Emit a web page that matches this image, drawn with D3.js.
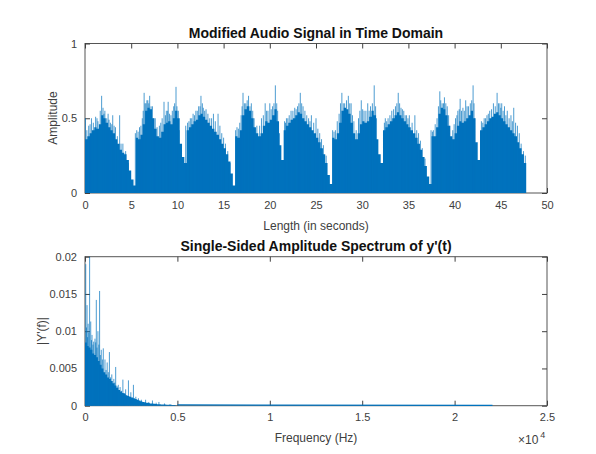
<!DOCTYPE html>
<html>
<head>
<meta charset="utf-8">
<script src="https://cdn.jsdelivr.net/npm/d3@7.9.0/dist/d3.min.js"></script>
<style>
  html, body { margin: 0; padding: 0; background: #fff; }
  svg { display: block; font-family: "Liberation Sans", Arial, sans-serif; }
  .tick text { fill: #404040; font-size: 11px; }
  .tick line { stroke: #404040; }
</style>
</head>
<body>
<div id="chart"></div>
<script>
// time domain: envelope of |y| sampled every 0.25 s, plus the single-sample peaks above it
const timeStep = 0.25;
const timeBody = [
  0.36, 0.38, 0.40, 0.42, 0.44, 0.43, 0.46, 0.52, 0.50, 0.47, 0.44, 0.42, 0.40, 0.36, 0.33, 0.29, 0.27, 0.26, 0.22, 0.15, 0.09, 0.05,
  0.37, 0.36, 0.39, 0.46, 0.55, 0.57, 0.56, 0.50, 0.43, 0.38, 0.37, 0.41, 0.46, 0.47, 0.48, 0.46, 0.50, 0.55, 0.50, 0.33, 0.24,
  0.20, 0.42, 0.44, 0.46, 0.48, 0.49, 0.52, 0.53, 0.51, 0.49, 0.47, 0.45, 0.43, 0.41, 0.39, 0.36, 0.33, 0.30, 0.26, 0.21, 0.13, 0.05,
  0.38, 0.37, 0.42, 0.52, 0.56, 0.58, 0.55, 0.50, 0.44, 0.40, 0.38, 0.40, 0.45, 0.48, 0.47, 0.49, 0.52, 0.56, 0.48, 0.32, 0.22,
  0.42, 0.45, 0.47, 0.49, 0.50, 0.52, 0.54, 0.53, 0.50, 0.48, 0.46, 0.44, 0.42, 0.40, 0.37, 0.34, 0.30, 0.26, 0.20, 0.12, 0.06,
  0.37, 0.36, 0.40, 0.47, 0.55, 0.57, 0.56, 0.53, 0.47, 0.40, 0.36, 0.40, 0.46, 0.48, 0.47, 0.48, 0.51, 0.55, 0.52, 0.36, 0.26, 0.20,
  0.42, 0.44, 0.46, 0.48, 0.50, 0.52, 0.54, 0.52, 0.50, 0.48, 0.46, 0.44, 0.42, 0.40, 0.37, 0.33, 0.29, 0.24, 0.18, 0.11, 0.06,
  0.38, 0.38, 0.44, 0.53, 0.57, 0.56, 0.52, 0.45, 0.38, 0.36, 0.40, 0.45, 0.48, 0.47, 0.48, 0.50, 0.52, 0.55, 0.50, 0.34, 0.22,
  0.42, 0.44, 0.46, 0.48, 0.50, 0.51, 0.53, 0.54, 0.52, 0.50, 0.48, 0.46, 0.44, 0.42, 0.40, 0.38, 0.34, 0.30, 0.26, 0.20, 0.20
];
const timePeaks = [
  [0.05, 0.5], [0.2, 0.42], [0.4, 0.45], [0.55, 0.46], [0.7, 0.5], [0.9, 0.47], [1.15, 0.51], [1.3, 0.5], [1.4, 0.48], [1.65, 0.55], [1.8, 0.65], [1.95, 0.57], [2.05, 0.53], [2.15, 0.55], [2.35, 0.5], [2.5, 0.53], [2.6, 0.49], [2.75, 0.47], [2.9, 0.46], [3.0, 0.52], [3.15, 0.45], [3.3, 0.44], [3.5, 0.38], [3.75, 0.52], [3.9, 0.33], [4.1, 0.33], [4.4, 0.28], [4.7, 0.2],
  [5.45, 0.4], [5.6, 0.42], [5.75, 0.41], [5.9, 0.44], [6.05, 0.45], [6.2, 0.5], [6.3, 0.55], [6.4, 0.67], [6.5, 0.6], [6.6, 0.6], [6.7, 0.62], [6.8, 0.62], [6.9, 0.6], [7.0, 0.65], [7.15, 0.58], [7.3, 0.58], [7.45, 0.5], [7.6, 0.5], [7.8, 0.44], [8.05, 0.45], [8.2, 0.47], [8.35, 0.5], [8.55, 0.61], [8.7, 0.52], [8.8, 0.55], [8.95, 0.55], [9.0, 0.61], [9.15, 0.53], [9.3, 0.52], [9.45, 0.55], [9.6, 0.58], [9.7, 0.6], [9.85, 0.71], [9.95, 0.58], [10.1, 0.55], [10.2, 0.42],
  [10.9, 0.45], [11.1, 0.47], [11.25, 0.48], [11.4, 0.5], [11.55, 0.5], [11.7, 0.53], [11.85, 0.52], [12.0, 0.55], [12.15, 0.55], [12.3, 0.58], [12.45, 0.58], [12.55, 0.65], [12.7, 0.6], [12.8, 0.57], [12.95, 0.55], [13.1, 0.56], [13.3, 0.53], [13.5, 0.5], [13.7, 0.5], [13.9, 0.53], [14.1, 0.48], [14.4, 0.53], [14.6, 0.45], [14.8, 0.4], [15.0, 0.37], [15.2, 0.33], [15.45, 0.28], [15.7, 0.2],
  [16.3, 0.42], [16.45, 0.44], [16.6, 0.43], [16.75, 0.47], [16.9, 0.52], [17.0, 0.58], [17.1, 0.67], [17.25, 0.6], [17.4, 0.6], [17.55, 0.62], [17.7, 0.65], [17.85, 0.58], [18.0, 0.6], [18.15, 0.55], [18.3, 0.5], [18.6, 0.45], [18.9, 0.45], [19.1, 0.5], [19.3, 0.52], [19.5, 0.6], [19.65, 0.55], [19.8, 0.55], [20.0, 0.6], [20.15, 0.56], [20.3, 0.58], [20.45, 0.6], [20.6, 0.72], [20.75, 0.6], [20.85, 0.55], [21.05, 0.4],
  [21.6, 0.48], [21.7, 0.47], [21.8, 0.5], [21.95, 0.5], [22.1, 0.52], [22.3, 0.55], [22.5, 0.55], [22.7, 0.57], [22.85, 0.56], [23.0, 0.58], [23.15, 0.6], [23.3, 0.67], [23.45, 0.6], [23.6, 0.58], [23.8, 0.55], [24.0, 0.52], [24.2, 0.5], [24.35, 0.48], [24.5, 0.52], [24.75, 0.47], [25.0, 0.5], [25.2, 0.43], [25.4, 0.4], [25.6, 0.36], [25.8, 0.32], [26.1, 0.25],
  [26.8, 0.42], [26.95, 0.41], [27.1, 0.42], [27.3, 0.48], [27.5, 0.53], [27.65, 0.6], [27.8, 0.67], [27.95, 0.6], [28.1, 0.6], [28.3, 0.62], [28.5, 0.65], [28.65, 0.6], [28.8, 0.6], [28.95, 0.52], [29.1, 0.48], [29.35, 0.42], [29.6, 0.5], [29.75, 0.55], [29.9, 0.62], [30.05, 0.56], [30.2, 0.55], [30.4, 0.55], [30.6, 0.6], [30.75, 0.55], [30.9, 0.58], [31.1, 0.6], [31.3, 0.72], [31.45, 0.58], [31.55, 0.5],
  [32.4, 0.47], [32.5, 0.5], [32.65, 0.48], [32.8, 0.5], [33.0, 0.52], [33.2, 0.55], [33.4, 0.56], [33.6, 0.58], [33.75, 0.6], [33.9, 0.67], [34.05, 0.6], [34.2, 0.57], [34.35, 0.56], [34.5, 0.55], [34.65, 0.52], [34.8, 0.52], [34.95, 0.5], [35.1, 0.52], [35.4, 0.47], [35.7, 0.52], [35.9, 0.42], [36.1, 0.4], [36.3, 0.35], [36.5, 0.3], [36.8, 0.23],
  [37.45, 0.42], [37.6, 0.41], [37.7, 0.42], [37.9, 0.46], [38.1, 0.5], [38.25, 0.58], [38.4, 0.68], [38.5, 0.62], [38.65, 0.6], [38.8, 0.6], [38.9, 0.64], [39.05, 0.6], [39.2, 0.58], [39.35, 0.52], [39.5, 0.45], [39.8, 0.42], [39.95, 0.46], [40.1, 0.5], [40.25, 0.52], [40.35, 0.55], [40.5, 0.56], [40.6, 0.63], [40.75, 0.55], [40.9, 0.57], [41.05, 0.55], [41.2, 0.62], [41.35, 0.58], [41.5, 0.58], [41.7, 0.6], [41.85, 0.62], [42.0, 0.72], [42.1, 0.6], [42.2, 0.5],
  [42.9, 0.48], [43.05, 0.47], [43.2, 0.5], [43.35, 0.5], [43.5, 0.52], [43.65, 0.53], [43.8, 0.55], [44.0, 0.56], [44.2, 0.6], [44.4, 0.58], [44.6, 0.67], [44.75, 0.6], [44.9, 0.6], [45.0, 0.57], [45.1, 0.6], [45.25, 0.55], [45.4, 0.58], [45.55, 0.52], [45.7, 0.55], [45.9, 0.5], [46.1, 0.52], [46.25, 0.48], [46.4, 0.57], [46.6, 0.47], [46.8, 0.45], [47.0, 0.4], [47.2, 0.33], [47.45, 0.28], [47.65, 0.25]
];

// spectrum: envelope every 100 Hz up to 5 kHz, the peaks, and the flat tail to Nyquist
const freqStep = 100;
const specBody = [
  0.0085, 0.0080, 0.0078, 0.0075, 0.0070, 0.0068, 0.0065, 0.0060, 0.0055, 0.0050,
  0.0045, 0.0042, 0.0038, 0.0036, 0.0033, 0.0030, 0.0027, 0.0024, 0.0021, 0.0019,
  0.0017, 0.0016, 0.0014, 0.0013, 0.0012, 0.0011, 0.0010, 0.0009, 0.0008, 0.0007,
  0.0006, 0.0005, 0.00045, 0.0004, 0.00035, 0.0003, 0.00028, 0.00025, 0.00022, 0.0002,
  0.00018, 0.00017, 0.00016, 0.00015, 0.00014, 0.00013, 0.00012, 0.00011, 0.0001, 0.0001
];
const specPeaks = [
  [40, 0.019], [80, 0.0105], [110, 0.0135], [140, 0.0092], [170, 0.011], [210, 0.0098], [250, 0.0205], [310, 0.0113], [350, 0.0088], [380, 0.0095], [430, 0.0082], [470, 0.0086], [540, 0.009],
  [580, 0.0085], [612, 0.0142], [650, 0.0078], [700, 0.01], [750, 0.0082], [790, 0.0154], [830, 0.0068], [880, 0.0075], [940, 0.0062], [990, 0.0077], [1080, 0.0062], [1140, 0.0048], [1200, 0.0058], [1260, 0.0045], [1320, 0.0072],
  [1380, 0.0038], [1450, 0.0042], [1560, 0.0036], [1610, 0.0031], [1660, 0.0052], [1740, 0.0026], [1800, 0.0028], [1900, 0.0025], [1980, 0.002], [2050, 0.0035], [2130, 0.0017], [2200, 0.0022], [2350, 0.0034],
  [2480, 0.0018], [2620, 0.0028], [2750, 0.0012], [2890, 0.001], [3050, 0.0008], [3280, 0.0008], [3450, 0.0005], [3650, 0.0007],
  [3850, 0.0004], [4000, 0.0005], [4300, 0.0003], [4600, 0.0002]
];
const specTail = [[5000, 0.0001], [22050, 0.00005]];

const timeTicksX = [0, 5, 10, 15, 20, 25, 30, 35, 40, 45, 50];
const timeTicksY = [0, 0.5, 1];
const freqTicksX = [0, 5000, 10000, 15000, 20000, 25000];
const freqTicksY = [0, 0.005, 0.01, 0.015, 0.02];

const blue = "#0072BD";
const width = 596;
const height = 454;

const svg = d3.select("#chart").append("svg")
  .attr("width", width)
  .attr("height", height);

function drawFrame(g, x, y, ticksX, ticksY, fmtX, fmtY) {
  const [x0, x1] = x.range();
  const [y0, y1] = y.range();
  g.append("rect")
    .attr("x", x0).attr("y", y1)
    .attr("width", x1 - x0).attr("height", y0 - y1)
    .attr("fill", "none").attr("stroke", "#555").attr("stroke-width", 1);

  const axes = [
    [d3.axisBottom(x).tickValues(ticksX).tickFormat(fmtX), `translate(0,${y0})`],
    [d3.axisTop(x).tickValues(ticksX).tickFormat(""), `translate(0,${y1})`],
    [d3.axisLeft(y).tickValues(ticksY).tickFormat(fmtY), `translate(${x0},0)`],
    [d3.axisRight(y).tickValues(ticksY).tickFormat(""), `translate(${x1},0)`],
  ];
  axes.forEach(([ax, tr]) => {
    const a = g.append("g").attr("transform", tr)
      .call(ax.tickSizeInner(-5).tickSizeOuter(0).tickPadding(8));
    a.select(".domain").remove();
    a.selectAll("text").attr("font-family", null);
  });
}

// ---- top: time domain ----
const xTime = d3.scaleLinear().domain([0, 50]).range([85, 547]);
const yTime = d3.scaleLinear().domain([0, 1]).range([193, 43.5]);

const topG = svg.append("g");
drawFrame(topG, xTime, yTime, timeTicksX, timeTicksY, d3.format("d"), (d) => String(d));

topG.append("path")
  .datum(timeBody)
  .attr("d", d3.area()
    .x((d, i) => xTime(i * timeStep))
    .y0(yTime(0))
    .y1((d) => yTime(d))
    .curve(d3.curveStepAfter))
  .attr("fill", blue);

topG.append("g").selectAll("line")
  .data(timePeaks)
  .join("line")
  .attr("x1", (d) => xTime(d[0])).attr("x2", (d) => xTime(d[0]))
  .attr("y1", yTime(0)).attr("y2", (d) => yTime(d[1]))
  .attr("stroke", blue).attr("stroke-width", 1).attr("stroke-opacity", 0.7);

topG.append("text")
  .attr("x", 316).attr("y", 38)
  .attr("text-anchor", "middle")
  .attr("font-size", 14).attr("font-weight", "bold").attr("fill", "#111")
  .text("Modified Audio Signal in Time Domain");
topG.append("text")
  .attr("x", 316).attr("y", 230)
  .attr("text-anchor", "middle")
  .attr("font-size", 12).attr("fill", "#404040")
  .text("Length (in seconds)");
topG.append("text")
  .attr("transform", `translate(57,118) rotate(-90)`)
  .attr("text-anchor", "middle")
  .attr("font-size", 12).attr("fill", "#404040")
  .text("Amplitude");

// ---- bottom: spectrum ----
const xFreq = d3.scaleLinear().domain([0, 25000]).range([85, 547]);
const yFreq = d3.scaleLinear().domain([0, 0.02]).range([405.7, 256.7]);

const botG = svg.append("g");
drawFrame(botG, xFreq, yFreq, freqTicksX, freqTicksY, (d) => String(d / 10000), (d) => String(d));

svg.append("clipPath").attr("id", "specClip")
  .append("rect")
  .attr("x", 85).attr("y", 256.7)
  .attr("width", 462).attr("height", 149.5);

const spec = botG.append("g").attr("clip-path", "url(#specClip)");
spec.append("path")
  .datum(specBody)
  .attr("d", d3.area()
    .x((d, i) => xFreq(i * freqStep))
    .y0(yFreq(0))
    .y1((d) => yFreq(d))
    .curve(d3.curveStepAfter))
  .attr("fill", blue);

spec.append("g").selectAll("line")
  .data(specPeaks)
  .join("line")
  .attr("x1", (d) => xFreq(d[0])).attr("x2", (d) => xFreq(d[0]))
  .attr("y1", yFreq(0)).attr("y2", (d) => yFreq(d[1]))
  .attr("stroke", blue).attr("stroke-width", 1).attr("stroke-opacity", 0.7);

spec.append("path")
  .datum(specTail)
  .attr("d", d3.line().x((d) => xFreq(d[0])).y((d) => yFreq(d[1])))
  .attr("fill", "none").attr("stroke", blue).attr("stroke-width", 1.2);

botG.append("text")
  .attr("x", 316).attr("y", 251)
  .attr("text-anchor", "middle")
  .attr("font-size", 14).attr("font-weight", "bold").attr("fill", "#111")
  .text("Single-Sided Amplitude Spectrum of y'(t)");
botG.append("text")
  .attr("x", 316).attr("y", 442)
  .attr("text-anchor", "middle")
  .attr("font-size", 12).attr("fill", "#404040")
  .text("Frequency (Hz)");
botG.append("text")
  .attr("transform", `translate(46,331) rotate(-90)`)
  .attr("text-anchor", "middle")
  .attr("font-size", 12).attr("fill", "#404040")
  .text("|Y'(f)|");

const exp = botG.append("text")
  .attr("x", 518).attr("y", 444)
  .attr("font-size", 12).attr("fill", "#404040");
exp.append("tspan").text("×10");
exp.append("tspan").attr("dx", 2).attr("dy", -6).attr("font-size", 9).text("4");
</script>
</body>
</html>
